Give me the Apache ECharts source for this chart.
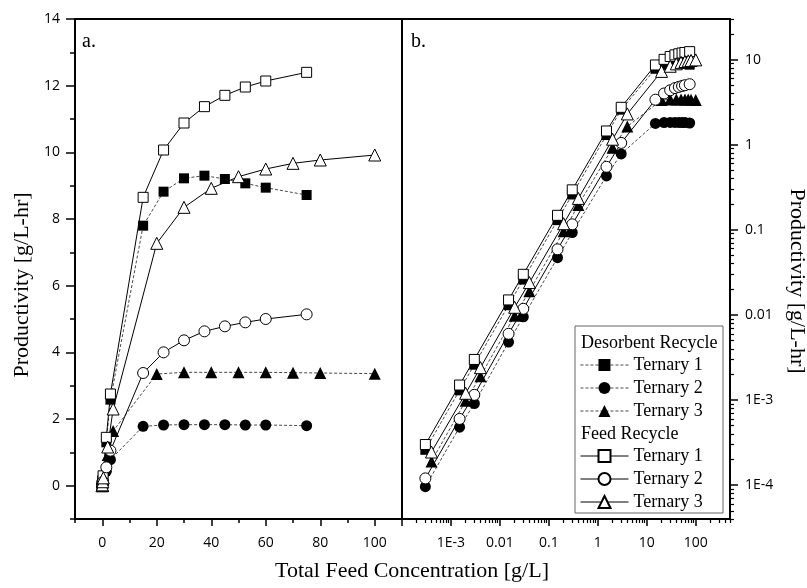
<!DOCTYPE html>
<html>
<head>
<meta charset="utf-8">
<script src="https://cdn.jsdelivr.net/npm/echarts@6/dist/echarts.min.js"></script>
<style>
  html, body { margin: 0; padding: 0; background: #fff; }
  #chart { width: 807px; height: 588px; }
</style>
</head>
<body>
<div id="chart"></div>
<script>
// feed concentrations [g/L]
const concT12 = [0.0003, 0.0015, 0.003, 0.015, 0.03, 0.15, 0.3, 1.5, 3, 15, 22.5, 30, 37.5, 45, 52.5, 60, 75]
const concT3 = [0.0004, 0.002, 0.004, 0.02, 0.04, 0.2, 0.4, 2, 4, 20, 30, 40, 50, 60, 70, 80, 100]

// productivity [g/L-hr]
const desorbT1 = [2.6e-4, 1.3e-3, 2.6e-3, 0.013, 0.026, 0.13, 0.26, 1.3, 2.58, 7.8, 8.82, 9.22, 9.30, 9.2, 9.07, 8.94, 8.72]
const desorbT2 = [9.6e-5, 4.8e-4, 9.1e-4, 4.8e-3, 9.5e-3, 0.047, 0.093, 0.43, 0.78, 1.78, 1.82, 1.83, 1.83, 1.83, 1.82, 1.82, 1.80]
const desorbT3 = [1.9e-4, 9.8e-4, 1.9e-3, 9.8e-3, 0.019, 0.096, 0.196, 0.92, 1.64, 3.35, 3.40, 3.40, 3.40, 3.40, 3.39, 3.38, 3.36]
const feedT1 = [3.0e-4, 1.5e-3, 3.0e-3, 0.015, 0.030, 0.148, 0.295, 1.45, 2.75, 8.65, 10.07, 10.88, 11.37, 11.71, 11.96, 12.14, 12.40]
const feedT2 = [1.2e-4, 6.0e-4, 1.15e-3, 6.0e-3, 0.0118, 0.059, 0.116, 0.55, 1.05, 3.38, 4.0, 4.36, 4.63, 4.78, 4.9, 5.0, 5.14]
const feedT3 = [2.45e-4, 1.2e-3, 2.4e-3, 0.0123, 0.024, 0.118, 0.234, 1.16, 2.3, 7.27, 8.35, 8.92, 9.27, 9.50, 9.67, 9.77, 9.92]

// ticks
const linXMajor = [0, 20, 40, 60, 80, 100]
const linXMinor = [-10, 10, 30, 50, 70, 90, 110]
const linYMajor = [0, 2, 4, 6, 8, 10, 12, 14]
const linYMinor = [-1, 1, 3, 5, 7, 9, 11, 13]
const logXMajor = [1e-4, 1e-3, 0.01, 0.1, 1, 10, 100]
const logXLabels = [1e-3, 0.01, 0.1, 1, 10, 100]
const logYMajor = [1e-4, 1e-3, 0.01, 0.1, 1, 10]

// log axis ranges
const logXMin = 1e-4, logXMax = 500
const logYMin = 4e-5, logYMax = 30

// minor ticks 2..9 of each decade, given as exponents (log10) for a plain overlay axis
function minorExp(lo, hi) {
  const out = []
  for (let e = Math.floor(Math.log10(lo)); e <= Math.ceil(Math.log10(hi)); e++) {
    for (let m = 2; m <= 9; m++) {
      const p = e + Math.log10(m)
      if (p >= Math.log10(lo) - 1e-9 && p <= Math.log10(hi) + 1e-9) out.push(p)
    }
  }
  return out
}
const logXMinorExp = minorExp(logXMin, logXMax)
const logYMinorExp = minorExp(logYMin, logYMax)

function logLabel(v) {
  const e = Math.round(Math.log10(v))
  if (e >= 0) return String(Math.pow(10, e))
  if (e >= -2) return Math.pow(10, e).toFixed(-e)
  return '1E' + e
}

const serif = 'Liberation Serif'
const sans = 'Open Sans'

const groups = [
  { name: 'Desorbent Recycle: Ternary 1', x: concT12, y: desorbT1, symbol: 'rect', size: 10, open: false },
  { name: 'Desorbent Recycle: Ternary 2', x: concT12, y: desorbT2, symbol: 'circle', size: 11, open: false },
  { name: 'Desorbent Recycle: Ternary 3', x: concT3, y: desorbT3, symbol: 'triangle', size: 12, open: false },
  { name: 'Feed Recycle: Ternary 1', x: concT12, y: feedT1, symbol: 'rect', size: 10, open: true },
  { name: 'Feed Recycle: Ternary 2', x: concT12, y: feedT2, symbol: 'circle', size: 11, open: true },
  { name: 'Feed Recycle: Ternary 3', x: concT3, y: feedT3, symbol: 'triangle', size: 12, open: true },
]

function makeSeries(g, xi, yi) {
  return {
    name: g.name,
    type: 'line',
    xAxisIndex: xi,
    yAxisIndex: yi,
    data: g.x.map((c, i) => [c, g.y[i]]),
    symbol: g.symbol,
    symbolSize: g.size,
    showSymbol: true,
    lineStyle: g.open
      ? { color: '#000', width: 1, type: 'solid' }
      : { color: '#333', width: 0.9, type: [3, 2] },
    itemStyle: g.open
      ? { color: '#fff', borderColor: '#000', borderWidth: 1 }
      : { color: '#000', borderColor: '#000', borderWidth: 0 },
    emphasis: { disabled: true },
  }
}

const series = []
groups.forEach(g => series.push(makeSeries(g, 0, 0)))
groups.forEach(g => series.push(makeSeries(g, 2, 2)))

const axisLine = { show: true, onZero: false, lineStyle: { color: '#000', width: 2 } }
const noLine = { show: false, onZero: false }
const tickLabel = { color: '#000', fontFamily: sans, fontSize: 14 }

const legendBase = {
  orient: 'vertical', left: 580, padding: 0,
  itemWidth: 48, itemHeight: 15, itemGap: 5,
  formatter: n => n.split(': ')[1],
  textStyle: { fontFamily: serif, fontSize: 18, color: '#000' },
  selectedMode: false,
}

const chart = echarts.init(document.getElementById('chart'))
chart.setOption({
  animation: false,
  textStyle: { fontFamily: serif },
  grid: [
    { left: 75, top: 19, width: 327, height: 500, show: true, borderColor: '#000', borderWidth: 2, outerBoundsMode: 'none' },
    { left: 402, top: 19, width: 328, height: 500, show: true, borderColor: '#000', borderWidth: 2, outerBoundsMode: 'none' },
  ],
  xAxis: [
    {
      type: 'value', gridIndex: 0, min: -10, max: 110, position: 'bottom',
      axisLine, splitLine: { show: false },
      axisTick: { length: 7, lineStyle: { color: '#000', width: 1.5 }, customValues: linXMajor },
      axisLabel: { ...tickLabel, margin: 17, customValues: linXMajor },
    },
    {
      type: 'value', gridIndex: 0, min: -10, max: 110, position: 'bottom',
      axisLine: noLine, splitLine: { show: false },
      axisTick: { length: 4, lineStyle: { color: '#000', width: 1.5 }, customValues: linXMinor },
      axisLabel: { show: false },
    },
    {
      type: 'log', logBase: 10, gridIndex: 1, min: logXMin, max: logXMax, position: 'bottom',
      axisLine, splitLine: { show: false },
      axisTick: { length: 7, lineStyle: { color: '#000', width: 1.5 }, customValues: logXMajor },
      axisLabel: { ...tickLabel, margin: 17, customValues: logXLabels, formatter: logLabel },
    },
    {
      // minor log ticks, placed on a plain axis spanning the same exponents
      type: 'value', gridIndex: 1, min: Math.log10(logXMin), max: Math.log10(logXMax), position: 'bottom',
      axisLine: noLine, splitLine: { show: false },
      axisTick: { length: 4, lineStyle: { color: '#000', width: 1.2 }, customValues: logXMinorExp },
      axisLabel: { show: false },
    },
  ],
  yAxis: [
    {
      type: 'value', gridIndex: 0, min: -1, max: 14, position: 'left',
      axisLine, splitLine: { show: false },
      axisTick: { length: 9, lineStyle: { color: '#000', width: 1.5 }, customValues: linYMajor },
      axisLabel: { ...tickLabel, margin: 15, customValues: linYMajor },
    },
    {
      type: 'value', gridIndex: 0, min: -1, max: 14, position: 'left',
      axisLine: noLine, splitLine: { show: false },
      axisTick: { length: 5, lineStyle: { color: '#000', width: 1.5 }, customValues: linYMinor },
      axisLabel: { show: false },
    },
    {
      type: 'log', logBase: 10, gridIndex: 1, min: logYMin, max: logYMax, position: 'right',
      axisLine, splitLine: { show: false },
      axisTick: { length: 8, lineStyle: { color: '#000', width: 1.5 }, customValues: logYMajor },
      axisLabel: { ...tickLabel, margin: 15, customValues: logYMajor, formatter: logLabel },
    },
    {
      type: 'value', gridIndex: 1, min: Math.log10(logYMin), max: Math.log10(logYMax), position: 'right',
      axisLine: noLine, splitLine: { show: false },
      axisTick: { length: 4, lineStyle: { color: '#000', width: 1.2 }, customValues: logYMinorExp },
      axisLabel: { show: false },
    },
  ],
  legend: [
    {
      ...legendBase, top: 356,
      data: groups.slice(0, 3).map(g => g.name),
      lineStyle: { width: 0.9, type: [3, 2], color: '#333' },
    },
    {
      ...legendBase, top: 447,
      data: groups.slice(3).map(g => g.name),
      lineStyle: { width: 1, type: 'solid', color: '#000' },
    },
  ],
  graphic: [
    { type: 'rect', shape: { x: 575, y: 326, width: 148, height: 187 }, style: { fill: 'none', stroke: '#666', lineWidth: 1 }, z: 5 },
    { type: 'text', x: 581, y: 343, style: { text: 'Desorbent Recycle', font: '18px "Liberation Serif"', fill: '#000', textVerticalAlign: 'middle' } },
    { type: 'text', x: 581, y: 434, style: { text: 'Feed Recycle', font: '18px "Liberation Serif"', fill: '#000', textVerticalAlign: 'middle' } },
    { type: 'text', x: 82, y: 42, style: { text: 'a.', font: '20px "Liberation Serif"', fill: '#000', textVerticalAlign: 'middle' } },
    { type: 'text', x: 411, y: 42, style: { text: 'b.', font: '20px "Liberation Serif"', fill: '#000', textVerticalAlign: 'middle' } },
    { type: 'text', x: 22, y: 285, rotation: Math.PI / 2, style: { text: 'Productivity [g/L-hr]', font: '22px "Liberation Serif"', fill: '#000', textAlign: 'center', textVerticalAlign: 'middle' } },
    { type: 'text', x: 797, y: 281, rotation: -Math.PI / 2, style: { text: 'Productivity [g/L-hr]', font: '22px "Liberation Serif"', fill: '#000', textAlign: 'center', textVerticalAlign: 'middle' } },
    { type: 'text', x: 412, y: 571, style: { text: 'Total Feed Concentration [g/L]', font: '22px "Liberation Serif"', fill: '#000', textAlign: 'center', textVerticalAlign: 'middle' } },
  ],
  series,
})
</script>
</body>
</html>
